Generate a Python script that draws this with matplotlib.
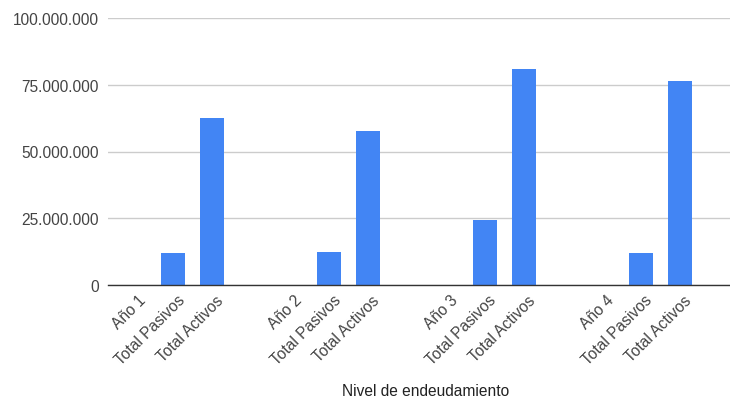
import numpy as np
import matplotlib
matplotlib.use("Agg")
import matplotlib.pyplot as plt
from matplotlib.ticker import FuncFormatter
from matplotlib.transforms import ScaledTranslation, blended_transform_factory

# Nivel de endeudamiento por año (valores en pesos)
years = ["Año 1", "Año 2", "Año 3", "Año 4"]
total_pasivos = [11_900_000, 12_500_000, 24_500_000, 11_900_000]
total_activos = [62_400_000, 57_600_000, 80_900_000, 76_500_000]
row_names = ["Total Pasivos", "Total Activos"]

BAR_COLOR = "#4285F4"
TEXT_COLOR = "#444444"

plt.rcParams["font.family"] = ["Liberation Sans", "DejaVu Sans"]

# one block per year: year label (no bar), pasivos, activos, then a blank slot
labels, values = [], []
for i, year in enumerate(years):
    labels += [year] + row_names
    values += [0, total_pasivos[i], total_activos[i]]
    if i < len(years) - 1:
        labels.append("")
        values.append(0)
x = np.arange(len(labels))

fig = plt.figure(figsize=(7.3, 4.02), dpi=100)
ax = fig.add_axes([108 / 730, 1 - 286 / 402, 622 / 730, 267 / 402])

ax.bar(x, values, width=0.62, color=BAR_COLOR, zorder=3)

ax.set_xlim(-0.66, 15.29)
ax.set_ylim(0, 100_000_000)
ax.set_yticks(np.arange(0, 100_000_001, 25_000_000))
ax.yaxis.set_major_formatter(FuncFormatter(lambda v, _: f"{int(v):,}".replace(",", ".")))
ax.tick_params(axis="y", length=0, pad=6.5, labelsize=11.2, labelcolor=TEXT_COLOR)
ax.set_xticks([])
ax.grid(axis="y", color="#cccccc", linewidth=1, zorder=0)

for side in ["top", "right", "left"]:
    ax.spines[side].set_visible(False)
ax.spines["bottom"].set_color("#333333")
ax.spines["bottom"].set_linewidth(1)
ax.spines["bottom"].set_zorder(4)

# rotated category labels under each slot
trans = blended_transform_factory(ax.transData, ax.transAxes)
offset = ScaledTranslation(4 / 100, -7 / 100, fig.dpi_scale_trans)
for xi, lab in zip(x, labels):
    if not lab:
        continue
    ax.text(xi, 0, lab, transform=trans + offset, rotation=45,
            ha="right", va="top", rotation_mode="anchor",
            fontsize=11.2, color=TEXT_COLOR)

fig.text(426 / 730, 1 - 392 / 402, "Nivel de endeudamiento", ha="center",
         va="center", fontsize=11.2, color="#222222")

fig.savefig("out.png", dpi=100, facecolor="white")
